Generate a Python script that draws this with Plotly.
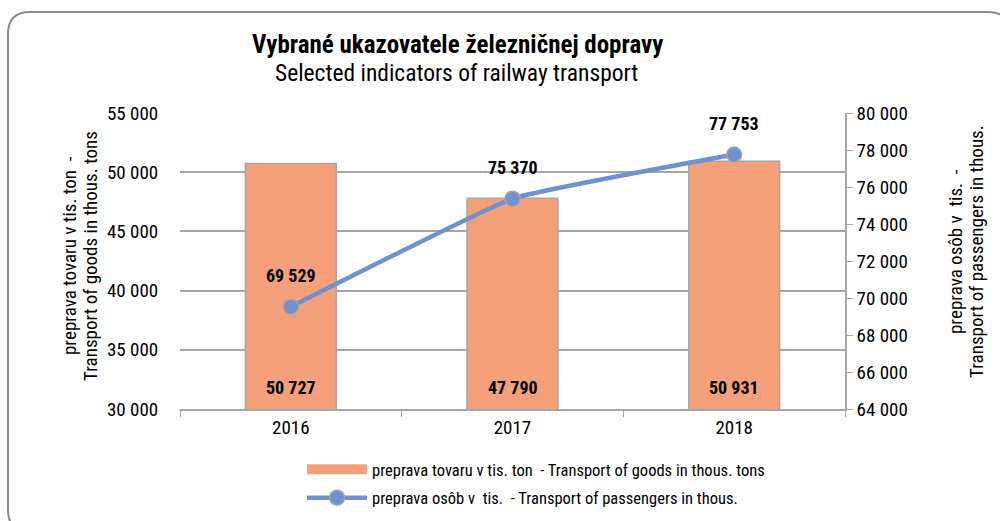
import plotly.graph_objects as go

years = ["2016", "2017", "2018"]
goods = [50727, 47790, 50931]
passengers = [69529, 75370, 77753]

goods_name = "preprava tovaru v tis. ton  - Transport of goods in thous. tons"
pass_name = "preprava osôb v  tis.  - Transport of passengers in thous."
left_title = ["preprava tovaru v tis. ton  -", "Transport of goods in thous. tons"]
right_title = ["preprava osôb v  tis.  -", "Transport of passengers in thous."]

FONT = "Roboto Condensed, Liberation Sans Narrow, Arial Narrow, Roboto, sans-serif"
GRID = "#A6A6A6"
BAR_COLOR = "#F4A07A"
LINE_COLOR = "#7090D0"

L, R, T, B = 180, 155, 113, 112
W, H = 1000, 521
pw, ph = W - L - R, H - T - B


def px(x):
    return (x - L) / pw


def py(y):
    return (H - B - y) / ph


def fmt(v):
    return f"{v:,}".replace(",", " ")


fig = go.Figure()
fig.add_trace(go.Bar(
    x=years, y=goods, name=goods_name, legendgroup="g", showlegend=False,
    marker=dict(color=BAR_COLOR, line=dict(color="#A6A6A6", width=1.5)),
    width=0.41,
))
# legend swatch for the bar series (wide rectangle like the reference)
fig.add_trace(go.Scatter(
    x=[None], y=[None], name=goods_name, legendgroup="g", mode="lines",
    line=dict(color=BAR_COLOR, width=12),
))
fig.add_trace(go.Scatter(
    x=years, y=passengers, name=pass_name, yaxis="y2", legendgroup="p",
    mode="lines+markers",
    line=dict(color=LINE_COLOR, width=4.5, shape="spline", smoothing=0.3),
    marker=dict(size=15, color=LINE_COLOR, line=dict(color="#A6A6A6", width=1.5)),
))

annotations = []
for i, v in enumerate(passengers):
    annotations.append(dict(
        x=i, y=v, xref="x", yref="y2", text=f"<b>{fmt(v)}</b>",
        showarrow=False, yshift=31,
        font=dict(family=FONT, size=18, color="black"),
    ))
for i, v in enumerate(goods):
    annotations.append(dict(
        x=i, y=30000, xref="x", yref="y", text=f"<b>{fmt(v)}</b>",
        showarrow=False, yshift=22,
        font=dict(family=FONT, size=18, color="black"),
    ))

annotations.append(dict(
    x=px(457), y=py(45), xref="paper", yref="paper", showarrow=False,
    text="<b>Vybrané ukazovatele železničnej dopravy</b>",
    font=dict(family=FONT, size=25, color="black"), xanchor="center", yanchor="middle",
))
annotations.append(dict(
    x=px(456), y=py(73), xref="paper", yref="paper", showarrow=False,
    text="Selected indicators of railway transport",
    font=dict(family=FONT, size=23.5, color="black"), xanchor="center", yanchor="middle",
))

# axis titles (two lines each, rotated)
for xpos, line in zip([69, 90], left_title):
    annotations.append(dict(
        x=px(xpos), y=py(256), xref="paper", yref="paper", showarrow=False,
        text=line, textangle=-90, xanchor="center", yanchor="middle",
        font=dict(family=FONT, size=19, color="black"),
    ))
for xpos, line in zip([955, 976], right_title):
    annotations.append(dict(
        x=px(xpos), y=py(252), xref="paper", yref="paper", showarrow=False,
        text=line, textangle=-90, xanchor="center", yanchor="middle",
        font=dict(family=FONT, size=19, color="black"),
    ))

# rounded frame
x0, y0, x1, y1, r = px(8), py(12), px(1010), py(532), 22
rx, ry = r / pw, r / ph
path = (f"M {x0+rx},{y0} L {x1-rx},{y0} Q {x1},{y0} {x1},{y0-ry} "
        f"L {x1},{y1+ry} Q {x1},{y1} {x1-rx},{y1} L {x0+rx},{y1} "
        f"Q {x0},{y1} {x0},{y1+ry} L {x0},{y0-ry} Q {x0},{y0} {x0+rx},{y0} Z")

fig.update_layout(
    width=W, height=H,
    margin=dict(l=L, r=R, t=T, b=B, autoexpand=False),
    paper_bgcolor="white", plot_bgcolor="white",
    separators=". ",
    font=dict(family=FONT, size=19, color="black"),
    showlegend=True,
    legend=dict(x=302 / W, y=1 - 452 / H, xref="container", yref="container",
                xanchor="left", yanchor="top",
                font=dict(family=FONT, size=16.5, color="black"),
                tracegroupgap=4, itemwidth=60, bgcolor="rgba(0,0,0,0)"),
    xaxis=dict(type="category", range=[-0.5, 2.5], showline=True, linecolor=GRID, linewidth=1.5,
               ticks="outside", tickson="boundaries", ticklen=6, tickcolor=GRID,
               tickfont=dict(size=19), showgrid=False, tickangle=0, automargin=False),
    yaxis=dict(range=[30000, 55000], dtick=5000, tickformat=",d",
               showgrid=True, gridcolor=GRID, gridwidth=1.5, zeroline=False,
               showline=False, ticks="outside", ticklen=17, tickcolor="rgba(0,0,0,0)",
               tickfont=dict(size=19), automargin=False),
    yaxis2=dict(range=[64000, 80000], dtick=2000, tickformat=",d", overlaying="y",
                side="right", showgrid=False, zeroline=False, showline=True,
                linecolor=GRID, linewidth=1.5, ticks="outside", ticklen=6, tickcolor=GRID,
                tickfont=dict(size=19), automargin=False),
    annotations=annotations,
    shapes=[dict(type="path", path=path, xref="paper", yref="paper",
                 line=dict(color="#8C8C8C", width=2), layer="below")],
)

fig.write_html("out.html", config={"displayModeBar": False},
               post_script="document.body.style.margin='0';document.body.style.overflow='hidden';")
